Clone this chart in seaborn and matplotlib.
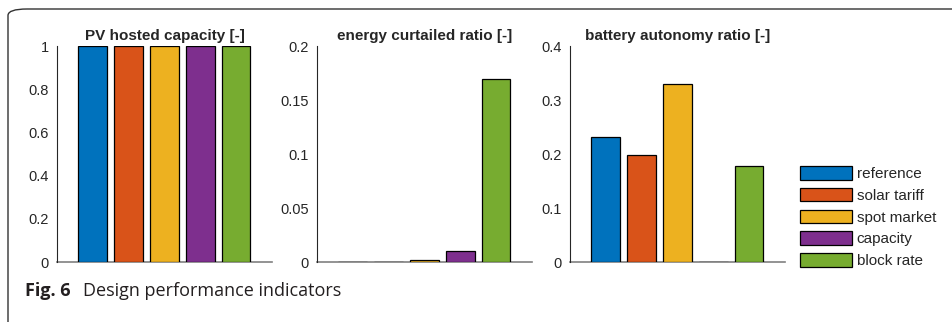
import seaborn as sns
import pandas as pd
import matplotlib.pyplot as plt
from matplotlib.patches import Patch, FancyBboxPatch

# values
strategies = ['reference', 'solar tariff', 'spot market', 'capacity', 'block rate']
pv_hosted = [1.0, 1.0, 1.0, 1.0, 1.0]
energy_curtailed = [0.0003, 0.0003, 0.002, 0.0105, 0.169]
battery_autonomy = [0.232, 0.198, 0.330, 0.0, 0.178]

titles = ['PV hosted capacity [-]', 'energy curtailed ratio [-]', 'battery autonomy ratio [-]']
ytop = [1.0, 0.2, 0.4]
yticks = [[0, 0.2, 0.4, 0.6, 0.8, 1], [0, 0.05, 0.1, 0.15, 0.2], [0, 0.1, 0.2, 0.3, 0.4]]
ylabels = [['0', '0.2', '0.4', '0.6', '0.8', '1'],
           ['0', '0.05', '0.1', '0.15', '0.2'],
           ['0', '0.1', '0.2', '0.3', '0.4']]

colors = ['#0072BD', '#D95319', '#EDB120', '#7E2F8E', '#77AC30']
cdict = dict(zip(strategies, colors))

sns.set_style('white')
plt.rcParams['font.family'] = ['Liberation Sans', 'DejaVu Sans']

fig = plt.figure(figsize=(9.53, 3.22), dpi=100)

W, H = 953, 322
lefts = [57, 317, 570]
axes = []
for l in lefts:
    axes.append(fig.add_axes([l / W, (H - 262) / H, 215 / W, 216 / H]))

for ax, vals, title, top, yt, yl in zip(axes, [pv_hosted, energy_curtailed, battery_autonomy],
                                        titles, ytop, yticks, ylabels):
    df = pd.DataFrame({'strategy': strategies, 'value': vals})
    sns.barplot(data=df, x='strategy', y='value', hue='strategy', palette=cdict,
                order=strategies, hue_order=strategies, width=0.8, dodge=False,
                saturation=1, edgecolor='black', linewidth=0.9, legend=False, ax=ax)
    ax.set_xlim(-1, 5)
    ax.set_ylim(0, top)
    ax.set_yticks(yt)
    ax.set_yticklabels(yl)
    ax.set_xticks(range(5))
    ax.set_xticklabels([])
    ax.set_xlabel('')
    ax.set_ylabel('')
    ax.set_title(title, fontsize=11, fontweight='bold', pad=4)
    ax.tick_params(axis='y', direction='in', length=3, width=0.8, colors='#262626',
                   labelsize=10.5, pad=6)
    ax.tick_params(axis='x', direction='in', length=3, width=0.8, colors='#262626')
    for s in ['top', 'right']:
        ax.spines[s].set_visible(False)
    ax.spines['left'].set_color('#262626')
    ax.spines['left'].set_linewidth(0.8)
    # baseline sits under the bars so their dark edges show on it
    ax.spines['bottom'].set_color('#808080')
    ax.spines['bottom'].set_linewidth(1.2)
    ax.spines['bottom'].set_zorder(0.5)
    ax.patch.set_alpha(0)

handles = [Patch(facecolor=c, edgecolor='black', linewidth=0.9) for c in colors]
fig.legend(handles, strategies, loc='upper left', bbox_to_anchor=(800 / W, 1 - 166 / H),
           frameon=False, fontsize=11, handlelength=3.4, handleheight=1.0,
           handletextpad=0.3, labelspacing=0.44, borderpad=0, borderaxespad=0)

# rounded frame around the figure panel, open to the right and bottom
frame = FancyBboxPatch((8 / W, -0.2), 1.2, 1 - 9 / H + 0.2,
                       boxstyle='round,pad=0,rounding_size=0.02',
                       transform=fig.transFigure, fill=False,
                       edgecolor='#333333', linewidth=1.0, clip_on=False)
fig.patches.append(frame)

cap_y = 1 - 296 / H
fig.text(25 / W, cap_y, 'Fig. 6', fontsize=13, fontweight='bold',
         family=['Open Sans', 'DejaVu Sans'], color='#231f20', va='baseline')
fig.text(83 / W, cap_y, 'Design performance indicators', fontsize=13,
         family=['Open Sans', 'DejaVu Sans'], color='#231f20', va='baseline')

fig.savefig('out.png', dpi=100)
